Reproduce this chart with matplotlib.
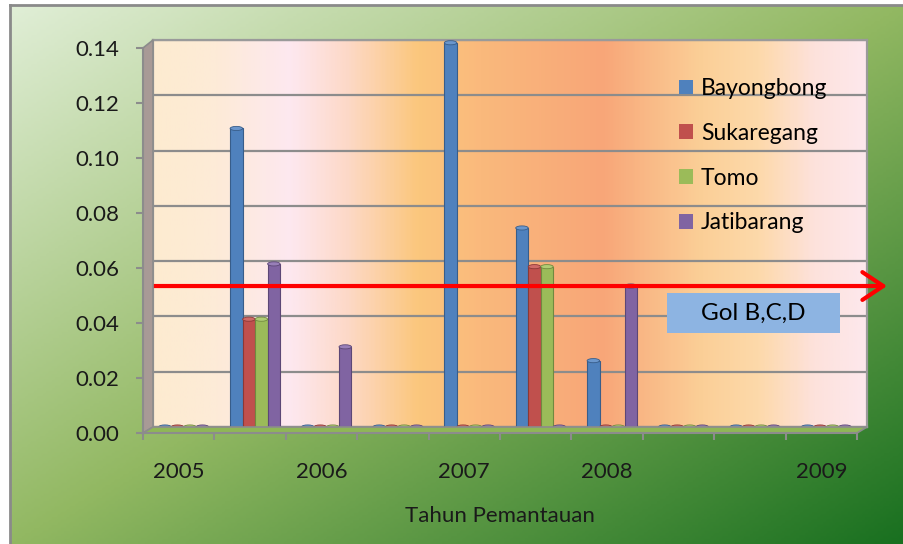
import numpy as np
import matplotlib
matplotlib.use("Agg")
import matplotlib.pyplot as plt
from matplotlib.colors import LinearSegmentedColormap
from matplotlib.patches import Patch, Polygon, Rectangle, Ellipse

plt.rcParams['font.family'] = ['Lato', 'DejaVu Sans']

# data
categories = ['2005', '', '2006', '', '2007', '', '2008', '', '', '2009']
series = ['Bayongbong', 'Sukaregang', 'Tomo', 'Jatibarang']
bayongbong = [0, 0.108, 0, 0, 0.139, 0.072, 0.024, 0, 0, 0]
sukaregang = [0, 0.039, 0, 0, 0, 0.058, 0, 0, 0, 0]
tomo = [0, 0.039, 0, 0, 0, 0.058, 0, 0, 0, 0]
jatibarang = [0, 0.059, 0.029, 0, 0, 0, 0.051, 0, 0, 0]
threshold = 0.051
threshold_label = 'Gol B,C,D'
yticks = [0.00, 0.02, 0.04, 0.06, 0.08, 0.10, 0.12, 0.14]

face = ['#4f81bd', '#c0504d', '#9bbb59', '#8064a2']
edge = ['#385d8a', '#8c3836', '#71893f', '#5c4776']
cap = ['#6a96cc', '#d06a67', '#b0cc74', '#987fb8']

W, H = 904, 544


def box(x0, y0, x1, y1):
    # pixel box (top-left origin) -> figure fraction rect
    return [x0 / W, 1 - y1 / H, (x1 - x0) / W, (y1 - y0) / H]


def fxy(x, y):
    return (x / W, 1 - y / H)


fig = plt.figure(figsize=(W / 100, H / 100), dpi=100, facecolor='white')

# green diagonal backdrop
bg = fig.add_axes(box(10, 5, W, H), zorder=-10)
bg_cmap = LinearSegmentedColormap.from_list(
    'bg', [(0, '#e0eed6'), (0.5, '#92b862'), (1, '#197020')])
u, v = np.meshgrid(np.linspace(0, 1, 300), np.linspace(0, 1, 200))
bg.imshow((u + v) / 2, cmap=bg_cmap, aspect='auto', extent=(0, 1, 1, 0),
          vmin=0, vmax=1)
bg.set_xlim(0, 1)
bg.set_ylim(1, 0)
bg.set_xticks([])
bg.set_yticks([])
for s in ['right', 'bottom']:
    bg.spines[s].set_visible(False)
for s in ['left', 'top']:
    bg.spines[s].set_color('#8a8a8a')
    bg.spines[s].set_linewidth(2)

# back wall with the bars
ax = fig.add_axes(box(153, 40, 867, 427), zorder=1)
xmin, xmax = -0.43, len(categories) - 0.43
ax.set_xlim(xmin, xmax)
ax.set_ylim(0, 0.14)
wall_cmap = LinearSegmentedColormap.from_list('wall', [
    (0.0, '#fdebd0'), (0.09, '#fdebd8'), (0.19, '#fde8f0'), (0.27, '#fdd9c8'),
    (0.37, '#fbc77d'), (0.46, '#fab97c'), (0.63, '#f8a678'), (0.77, '#fbcf97'),
    (0.85, '#fdd9aa'), (0.93, '#fde2dc'), (1.0, '#fde8ec')])
ax.imshow(np.linspace(0, 1, 400).reshape(1, -1), cmap=wall_cmap, aspect='auto',
          extent=(xmin, xmax, 0, 0.14), zorder=0)
ax.set_yticks(yticks)
ax.set_xticks([])
ax.tick_params(axis='y', length=0, labelleft=False)
ax.grid(axis='y', color='#8c8c8c', lw=1.6, zorder=1)
for s in ax.spines.values():
    s.set_color('#9a9a9a')
    s.set_linewidth(1.6)

bw = 0.175
offsets = [-1.5 * bw, -0.5 * bw, 0.5 * bw, 1.5 * bw]
cap_h = 0.0015
x = np.arange(len(categories))
for i, vals in enumerate([bayongbong, sukaregang, tomo, jatibarang]):
    ax.bar(x + offsets[i], vals, width=bw, color=face[i], edgecolor=edge[i],
           lw=0.8, zorder=3)
    for xi, val in zip(x, vals):
        ax.add_patch(Ellipse((xi + offsets[i], val), bw, cap_h, facecolor=cap[i],
                             edgecolor=edge[i], lw=0.6, zorder=4))

# threshold arrow
ax.annotate('', xy=(1.028, threshold), xytext=(-0.002, threshold),
            xycoords=ax.get_yaxis_transform(), textcoords=ax.get_yaxis_transform(),
            arrowprops=dict(arrowstyle='->,head_length=0.75,head_width=0.5',
                            color='#ff0000', lw=3, shrinkA=0, shrinkB=0,
                            mutation_scale=20),
            annotation_clip=False, zorder=7)
ax.add_patch(Rectangle(fxy(667, 333), 173 / W, 40 / H, transform=fig.transFigure,
                       facecolor='#8db4e2', edgecolor='none', zorder=6))
ax.text(753.5 / W, 1 - 313 / H, threshold_label, transform=fig.transFigure,
        ha='center', va='center', fontsize=17.5, color='black', zorder=8)

handles = [Patch(facecolor=c) for c in face]
ax.legend(handles, series, loc='upper left', bbox_to_anchor=fxy(679, 78),
          bbox_transform=fig.transFigure, frameon=False, fontsize=16.5,
          handlelength=0.6, handleheight=0.6, handletextpad=0.35,
          labelspacing=1.04, borderpad=0, borderaxespad=0)

# side wall and floor
fig.patches.append(Polygon([fxy(143, 48), fxy(153, 40), fxy(153, 427), fxy(143, 433)],
                           closed=True, transform=fig.transFigure,
                           facecolor='#a89a96', edgecolor='#8c8c8c', lw=1.2, zorder=1))
fig.patches.append(Polygon([fxy(143, 433), fxy(153, 427), fxy(867, 427), fxy(857, 433)],
                           closed=True, transform=fig.transFigure,
                           facecolor='#8fb657', edgecolor='#8c8c8c', lw=1.2, zorder=1))

# front axis: ticks and labels
axf = fig.add_axes(box(143, 48, 857, 433), zorder=2)
axf.patch.set_visible(False)
axf.set_xlim(-0.5, len(categories) - 0.5)
axf.set_ylim(0, 0.14)
axf.set_yticks(yticks, [f'{t:.2f}' for t in yticks])
axf.set_xticks(np.arange(len(categories) + 1) - 0.5, [])
lab_pos = [i for i, c in enumerate(categories) if c]
axf.set_xticks(lab_pos, [categories[i] for i in lab_pos], minor=True)
axf.tick_params(axis='y', length=5, width=1.5, color='#8c8c8c', pad=12,
                labelsize=16, labelcolor='#1a1a1a')
axf.tick_params(axis='x', which='major', length=5, width=1.5, color='#8c8c8c')
axf.tick_params(axis='x', which='minor', length=0, pad=21, labelsize=16,
                labelcolor='#1a1a1a')
for s in ['top', 'right']:
    axf.spines[s].set_visible(False)
for s in ['left', 'bottom']:
    axf.spines[s].set_color('#8c8c8c')
    axf.spines[s].set_linewidth(1.5)
axf.set_xlabel('Tahun Pemantauan', fontsize=16, color='#1a1a1a', labelpad=17)

fig.savefig('out.png', dpi=100)
